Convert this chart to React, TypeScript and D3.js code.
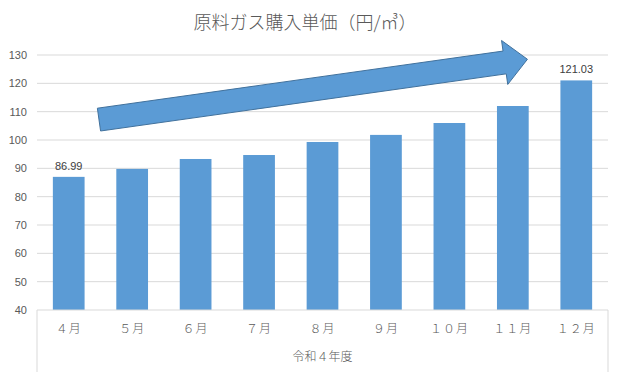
import React from 'react'
import * as d3 from 'd3'

const months = ['４月', '５月', '６月', '７月', '８月', '９月', '１０月', '１１月', '１２月']
const prices = [86.99, 89.8, 93.3, 94.7, 99.3, 101.8, 106.0, 112.0, 121.03]
const yTicks = [40, 50, 60, 70, 80, 90, 100, 110, 120, 130]
const labelledIdx = [0, 8]
const groupLabel = '令和４年度'
const title = '原料ガス購入単価（円/㎥）'
// arrow in chart units: x in band units (0..9), y in price units
const arrowTail = { x: 0.977, y: 107.2 }
const arrowTip = { x: 7.73, y: 128.5 }

const W = 619
const H = 372
const left = 37
const right = 608
const top = 55
const bottom = 310

const jp = '"Noto Sans CJK JP", "Noto Sans", sans-serif'
const num = '"Liberation Sans", Arial, sans-serif'

export default function App() {
  const x = d3.scaleBand<string>().domain(months).range([left, right]).paddingInner(0.5).paddingOuter(0.25)
  const y = d3.scaleLinear().domain([40, 130]).range([bottom, top])
  const ax = d3.scaleLinear().domain([0, months.length]).range([left, right])

  // arrow polygon
  const tx = ax(arrowTail.x), ty = y(arrowTail.y)
  const px = ax(arrowTip.x), py = y(arrowTip.y)
  const len = Math.hypot(px - tx, py - ty)
  const ux = (px - tx) / len, uy = (py - ty) / len
  const nx = -uy, ny = ux
  const shaftHalf = 11.5, headHalf = 22.2, headLen = 23
  const bx = px - ux * headLen, by = py - uy * headLen
  const pts: [number, number][] = [
    [tx + nx * shaftHalf, ty + ny * shaftHalf],
    [bx + nx * shaftHalf, by + ny * shaftHalf],
    [bx + nx * headHalf, by + ny * headHalf],
    [px, py],
    [bx - nx * headHalf, by - ny * headHalf],
    [bx - nx * shaftHalf, by - ny * shaftHalf],
    [tx - nx * shaftHalf, ty - ny * shaftHalf],
  ]
  const arrowPath = d3.line()(pts) + 'Z'

  return (
    <svg width={W} height={H} style={{ position: 'absolute', left: 0, top: 0, background: '#fff' }}>
      <text x={305} y={29} textAnchor="middle" fontFamily={jp} fontSize={18} fontWeight={300} fill="#595959">{title}</text>

      {yTicks.map(t => (
        <g key={t}>
          {t > 40 && <line x1={left} x2={right} y1={y(t)} y2={y(t)} stroke="#d9d9d9" strokeWidth={1} />}
          <text x={27} y={y(t) + 4} textAnchor="end" fontFamily={num} fontSize={11} fill="#595959">{t}</text>
        </g>
      ))}

      {months.map((m, i) => (
        <rect key={m} x={x(m)} y={y(prices[i])} width={x.bandwidth()} height={bottom - y(prices[i])} fill="#5b9bd5" />
      ))}

      {labelledIdx.map(i => (
        <text key={i} x={x(months[i])! + x.bandwidth() / 2} y={y(prices[i]) - 7} textAnchor="middle"
          fontFamily={num} fontSize={11} fill="#404040">{prices[i].toFixed(2)}</text>
      ))}

      <line x1={left} x2={right} y1={bottom} y2={bottom} stroke="#d9d9d9" />
      <line x1={left} x2={left} y1={bottom} y2={H} stroke="#d9d9d9" />
      <line x1={right} x2={right} y1={bottom} y2={H} stroke="#d9d9d9" />

      {months.map(m => (
        <text key={m} x={x(m)! + x.bandwidth() / 2} y={333} textAnchor="middle" letterSpacing={1}
          fontFamily={jp} fontSize={12} fontWeight={300} fill="#595959">{m}</text>
      ))}
      <text x={(left + right) / 2} y={361} textAnchor="middle" fontFamily={jp} fontSize={12} fontWeight={300} fill="#595959">{groupLabel}</text>

      <path d={arrowPath} fill="#5b9bd5" stroke="#41719c" strokeWidth={1} strokeLinejoin="miter" />
    </svg>
  )
}
